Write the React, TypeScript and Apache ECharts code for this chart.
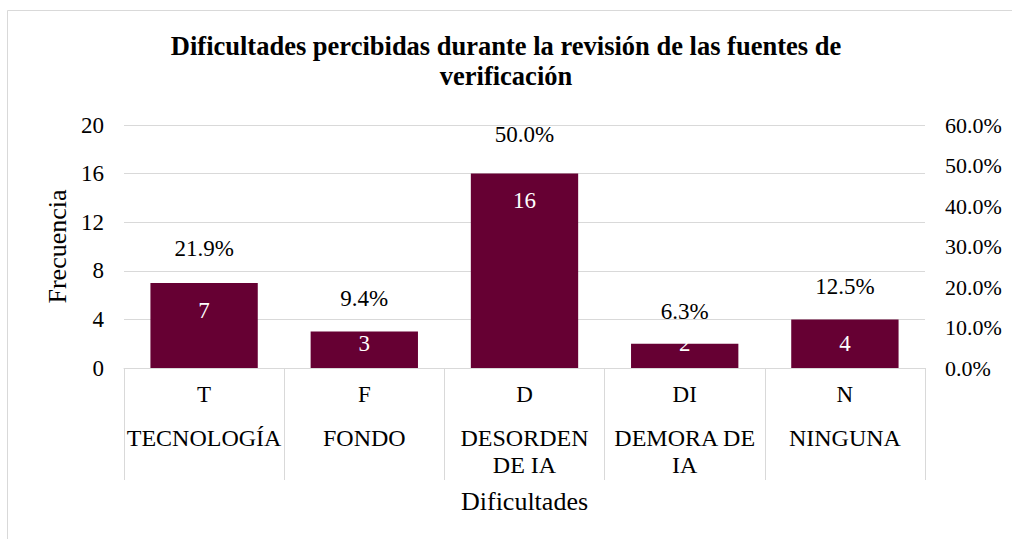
import React, { useEffect, useRef } from "react";
import * as echarts from "echarts";

const codes = ["T", "F", "D", "DI", "N"];
const names = ["TECNOLOGÍA", "FONDO", "DESORDEN\nDE IA", "DEMORA DE\nIA", "NINGUNA"];
const frequencies = [7, 3, 16, 2, 4];
const percentages = [21.9, 9.4, 50.0, 6.3, 12.5];
const leftTicks = [0, 4, 8, 12, 16, 20];
const rightTicks = [0, 10, 20, 30, 40, 50, 60];

// label offsets inside bars (style only)
const barLabelDistances = [16.5, 0.5, 15.5, -11.5, 12.5];

const FONT = "'Liberation Serif', 'Times New Roman', serif";

export default function App() {
  const ref = useRef<HTMLDivElement>(null);
  useEffect(() => {
    if (!ref.current) return;
    const chart = echarts.init(ref.current, undefined, { renderer: "svg" });
    const cats = codes.map((c, i) => c + "|" + names[i]);
    chart.setOption({
      animation: false,
      backgroundColor: "#ffffff",
      textStyle: { fontFamily: FONT },
      title: {
        text: "Dificultades percibidas durante la revisión de las fuentes de\nverificación",
        left: "center",
        top: 26,
        textStyle: {
          fontFamily: FONT,
          fontWeight: "bold",
          fontSize: 26.5,
          lineHeight: 30,
          color: "#000",
        },
      },
      graphic: [
        {
          type: "rect",
          shape: { x: 7.5, y: 10.5, width: 1010, height: 535 },
          style: { fill: "none", stroke: "#d9d9d9", lineWidth: 1 },
          silent: true,
        },
      ],
      grid: { left: 124, right: 87, top: 125, bottom: 171, containLabel: false },
      xAxis: {
        type: "category",
        data: cats,
        name: "Dificultades",
        nameLocation: "middle",
        nameGap: 120,
        nameTextStyle: { fontFamily: FONT, fontSize: 26, color: "#000" },
        axisLine: { show: true, lineStyle: { color: "#d9d9d9", width: 1 } },
        axisTick: {
          show: true,
          length: 112,
          inside: false,
          lineStyle: { color: "#d9d9d9", width: 1 },
        },
        axisLabel: {
          interval: 0,
          margin: 10,
          color: "#000",
          fontFamily: FONT,
          formatter: (v: string) => {
            const [c, n] = v.split("|");
            const lines = n.split("\n").map((l) => "{b|" + l + "}").join("\n");
            return "{a|" + c + "}\n{s| }\n" + lines;
          },
          rich: {
            a: { fontFamily: FONT, fontSize: 23, lineHeight: 32, color: "#000" },
            s: { fontSize: 10, lineHeight: 14 },
            b: { fontFamily: FONT, fontSize: 24, lineHeight: 27, color: "#000" },
          },
        },
        splitLine: { show: false },
      },
      yAxis: [
        {
          type: "value",
          min: leftTicks[0],
          max: leftTicks[leftTicks.length - 1],
          interval: 4,
          name: "Frecuencia",
          nameLocation: "middle",
          nameGap: 54,
          nameRotate: 90,
          nameTextStyle: { fontFamily: FONT, fontSize: 26, color: "#000" },
          axisLine: { show: false },
          axisTick: { show: false },
          axisLabel: { margin: 20, fontFamily: FONT, fontSize: 23, color: "#000" },
          splitLine: { show: true, lineStyle: { color: "#d9d9d9", width: 1 } },
        },
        {
          type: "value",
          min: rightTicks[0],
          max: rightTicks[rightTicks.length - 1],
          interval: 10,
          position: "right",
          axisLine: { show: false },
          axisTick: { show: false },
          axisLabel: {
            margin: 20,
            fontFamily: FONT,
            fontSize: 22,
            color: "#000",
            formatter: (v: number) => v.toFixed(1) + "%",
          },
          splitLine: { show: false },
        },
      ],
      series: [
        {
          type: "bar",
          data: frequencies.map((v, i) => ({
            value: v,
            label: { distance: barLabelDistances[i] },
          })),
          yAxisIndex: 0,
          barWidth: "67%",
          itemStyle: { color: "#660033" },
          label: {
            show: true,
            position: "insideTop",
            distance: 15,
            fontFamily: FONT,
            fontSize: 23,
            color: "#ffffff",
          },
          z: 2,
        },
        {
          type: "line",
          data: percentages,
          yAxisIndex: 1,
          symbol: "circle",
          symbolSize: 1,
          showSymbol: true,
          itemStyle: { color: "rgba(0,0,0,0)", borderWidth: 0 },
          lineStyle: { color: "rgba(0,0,0,0)", width: 0 },
          label: {
            show: true,
            position: "top",
            distance: 19,
            fontFamily: FONT,
            fontSize: 23,
            color: "#000000",
            opacity: 1,
            formatter: (p: any) => Number(p.value).toFixed(1) + "%",
          },
          z: 3,
        },
      ],
    });
    return () => chart.dispose();
  }, []);
  return <div ref={ref} style={{ width: 1012, height: 539, position: "absolute", left: 0, top: 0 }} />;
}
